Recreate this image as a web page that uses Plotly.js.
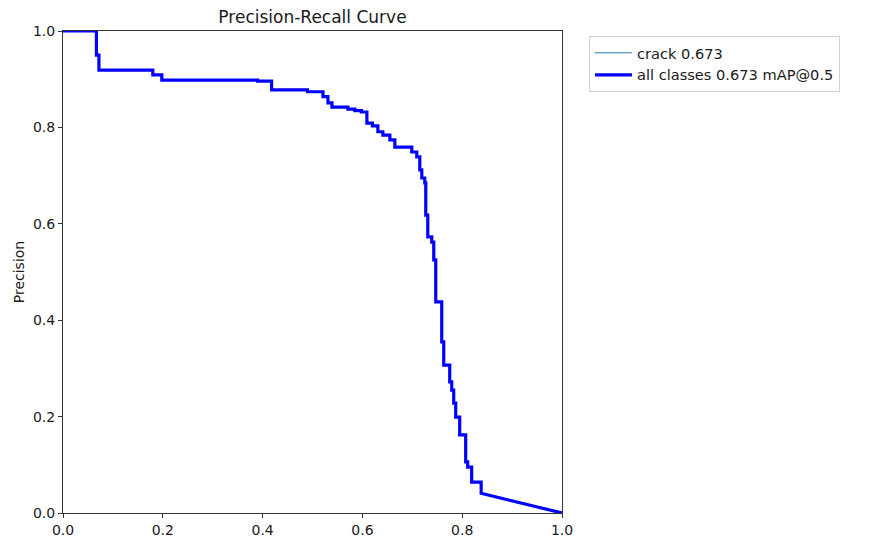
<!DOCTYPE html>
<html>
<head>
<meta charset="utf-8">
<script src="https://cdn.plot.ly/plotly-3.0.1.min.js"></script>
<style>html,body{margin:0;padding:0;background:#fff;}#chart{width:875px;height:538px;}</style>
</head>
<body>
<div id="chart"></div>
<script>
// Drop points of the step curve: at recall stepRecall[i], precision falls to stepPrecision[i]
const startPrecision = 1.0;
const stepRecall = [0.067, 0.072, 0.180, 0.198, 0.390, 0.418, 0.490, 0.521, 0.531, 0.539, 0.571, 0.585,
  0.598, 0.609, 0.620, 0.631, 0.641, 0.655, 0.665, 0.699, 0.709, 0.715, 0.719, 0.725, 0.727, 0.731,
  0.739, 0.743, 0.747, 0.759, 0.763, 0.775, 0.779, 0.783, 0.787, 0.795, 0.807, 0.811, 0.819, 0.838];
const stepPrecision = [0.950, 0.919, 0.909, 0.898, 0.896, 0.878, 0.874, 0.864, 0.851, 0.842, 0.838, 0.835,
  0.832, 0.809, 0.803, 0.791, 0.784, 0.774, 0.759, 0.749, 0.739, 0.712, 0.695, 0.685, 0.618, 0.573,
  0.562, 0.525, 0.438, 0.355, 0.307, 0.272, 0.255, 0.228, 0.199, 0.162, 0.106, 0.095, 0.064, 0.041];
const endRecall = 1.0;
const endPrecision = 0.0;
const seriesNames = ['crack 0.673', 'all classes 0.673 mAP@0.5'];
const tickVals = [0, 0.2, 0.4, 0.6, 0.8, 1.0];
const tickText = ['0.0', '0.2', '0.4', '0.6', '0.8', '1.0'];

// Build step vertices (horizontal then vertical), then the final straight segment
const xs = [0], ys = [startPrecision];
let prev = startPrecision;
for (let i = 0; i < stepRecall.length; i++) {
  xs.push(stepRecall[i]); ys.push(prev);
  xs.push(stepRecall[i]); ys.push(stepPrecision[i]);
  prev = stepPrecision[i];
}
xs.push(endRecall); ys.push(endPrecision);

const font = 'DejaVu Sans, sans-serif';
const traces = [
  {x: xs, y: ys, mode: 'lines', name: seriesNames[0],
   line: {color: '#1f77b4', width: 1}},
  {x: xs, y: ys, mode: 'lines', name: seriesNames[1],
   line: {color: '#0000ff', width: 3.2}}
];
const axisCommon = {
  range: [0, 1], tickvals: tickVals, ticktext: tickText,
  showgrid: false, zeroline: false, showline: true, mirror: true,
  linecolor: '#333', linewidth: 1, ticks: 'outside', ticklen: 4, tickcolor: '#333',
  tickfont: {family: font, size: 14, color: '#1a1a1a'}, fixedrange: true
};
const layout = {
  width: 875, height: 538,
  margin: {l: 63, r: 313, t: 31, b: 25},
  paper_bgcolor: '#fff', plot_bgcolor: '#fff',
  font: {family: font, color: '#000'},
  title: {text: 'Precision-Recall Curve', x: (63 + 562) / 2 / 875, xanchor: 'center',
          y: 1 - 17 / 538, yanchor: 'middle', font: {family: font, size: 17, color: '#1a1a1a'}},
  xaxis: Object.assign({}, axisCommon),
  yaxis: Object.assign({}, axisCommon, {
    title: {text: 'Precision', font: {family: font, size: 14, color: '#1a1a1a'}, standoff: 5}
  }),
  showlegend: true,
  legend: {x: 1.054, y: 0.99, xanchor: 'left', yanchor: 'top',
           bordercolor: '#d0d0d0', borderwidth: 1, bgcolor: '#fff', itemwidth: 37,
           font: {family: font, size: 14.6, color: '#1a1a1a'}, tracegroupgap: 0}
};
Plotly.newPlot('chart', traces, layout, {displayModeBar: false, staticPlot: true});
</script>
</body>
</html>
